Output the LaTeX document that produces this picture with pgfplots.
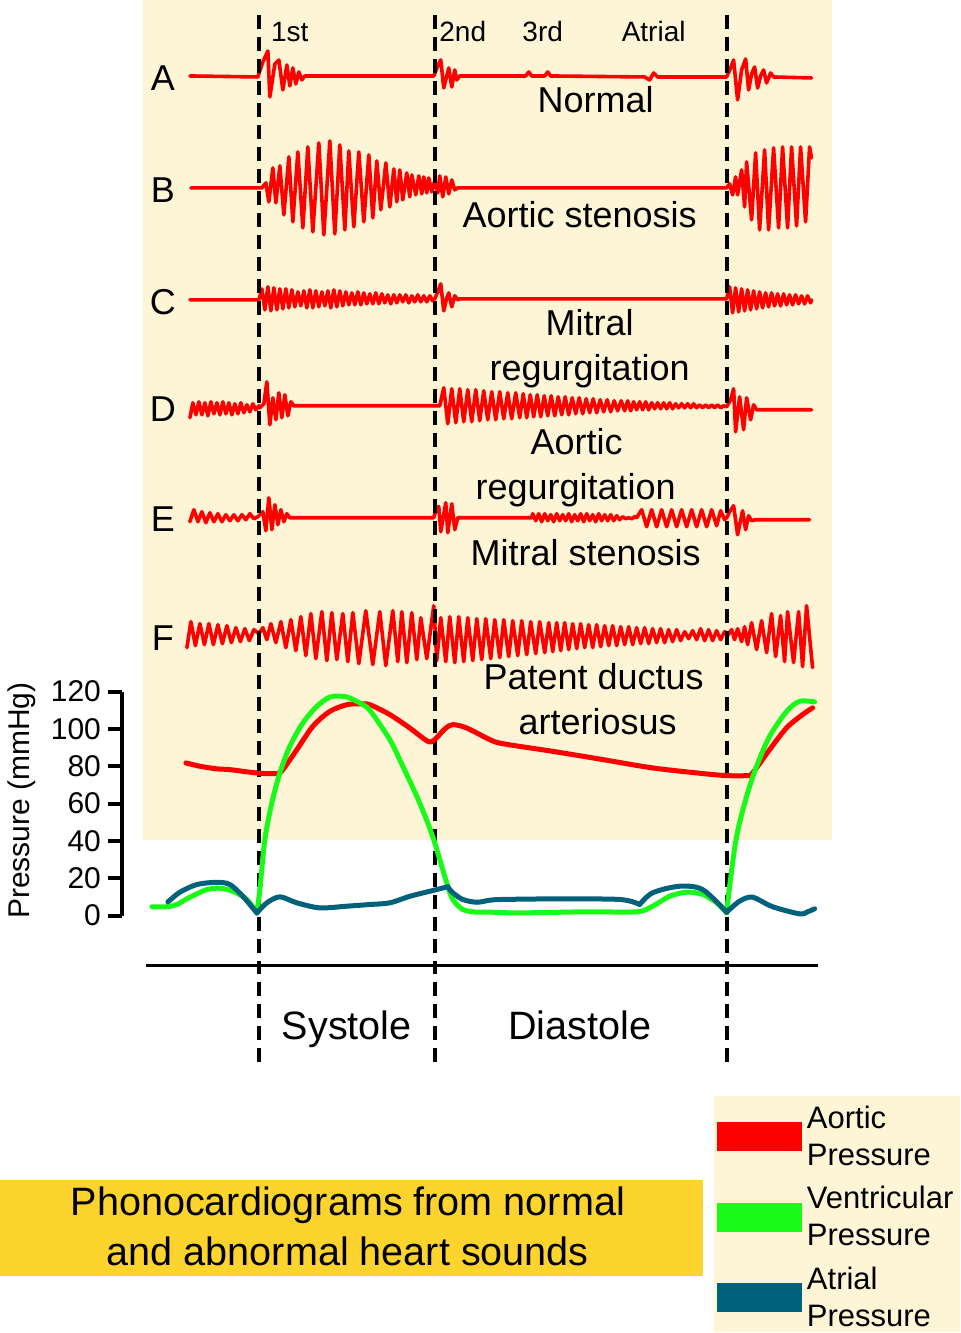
\documentclass[border=0pt]{standalone}
\usepackage{fontspec}
\setmainfont{Liberation Sans}
\usepackage{pgfplots}
\pgfplotsset{compat=1.18}
\definecolor{cream}{RGB}{253,245,214}
\definecolor{gold}{RGB}{253,211,46}
\definecolor{atrial}{RGB}{0,98,122}
\definecolor{vent}{RGB}{25,250,25}
\definecolor{aort}{RGB}{255,0,0}
\pgfplotsset{
  sound/.style={aort, line width=1.8pt, line join=round, line cap=round},
  cycleline/.style={black, line width=2pt, dash pattern=on 7pt off 4pt},
  press/.style={line width=2.5pt, smooth, line cap=round},
}
\newcommand{\fLab}{\fontsize{18}{21}\selectfont}
\newcommand{\fSml}{\fontsize{14}{17}\selectfont}
\newcommand{\fBig}{\fontsize{19.8}{24}\selectfont}
\begin{document}
\begin{tikzpicture}
% pixel frame: x 0..960, y 0..1333 downwards
\begin{axis}[at={(0,0)}, anchor=south west, scale only axis,
    width=480pt, height=666.5pt,
    xmin=0, xmax=960, ymin=0, ymax=1333, y dir=reverse,
    axis lines=none, clip=false]
\addplot[draw=none, fill=white] coordinates {(0,0)(960,0)(960,1333)(0,1333)} -- cycle;
\addplot[draw=none, fill=cream] coordinates {(143,0)(832,0)(832,840)(143,840)} -- cycle;
\addplot[draw=none, fill=cream] coordinates {(714,1097)(960,1097)(960,1333)(714,1333)} -- cycle;
\addplot[draw=none, fill=gold] coordinates {(0,1181)(703,1181)(703,1277)(0,1277)} -- cycle;

% A normal
\addplot[sound] coordinates {(190,76)(258,77)(263,62)(268,51)(270,97)(275,64)(279,60)(283,90)(287,65)(290,86)(293,68)(296,84)(299,72)(302,80)(305,76)(308,76)(434,76)(438,66)(441,60)(444,88)(449,68)(452,87)(455,70)(457,80)(460,76)(526,76)(529,72)(532,76)(545,76)(548,72)(551,76)(645,77)(650,80)(654,73)(658,77)(727,77)(731,68)(734,60)(738,100)(742,70)(746,59)(749,90)(752,74)(755,67)(758,88)(761,76)(764,70)(767,83)(771,73)(774,77)(812,78)};

% B aortic stenosis
\addplot[sound] coordinates {(191,188)(262,188)(266,183)(269,202)(273,168)(276,203)(280,166)(284,215)(289,157)(293,222)(298,152)(303,228)(308,147)(313,232)(319,143)(324,235)(330,141)(335,234)(340,145)(345,230)(349,151)(354,227)(359,152)(364,222)(369,155)(373,218)(377,161)(381,210)(386,163)(390,207)(394,169)(397,202)(400,170)(403,200)(407,173)(410,197)(412,175)(416,195)(419,176)(422,194)(424,177)(427,193)(429,178)(432,192)(435,181)(438,193)(440,176)(443,197)(446,177)(449,194)(452,180)(455,190)(458,188)(727,188)(730,184)(733,195)(736,177)(738,195)(742,170)(745,207)(747,162)(752,220)(756,153)(760,230)(765,150)(769,230)(774,148)(779,228)(783,147)(788,228)(792,147)(797,226)(801,147)(806,222)(810,147)(812,158)};

% C mitral regurgitation
\addplot[sound] coordinates {(190,300)(259,300)(262,289)(265,310)(268,287)(271,311)(274,288)(277,310)(280,289)(283,309)(286,289)(289,308)(292,290)(295,307)(298,292)(301,306)(304,291)(307,308)(310,290)(313,308)(316,291)(319,307)(322,292)(325,306)(328,291)(331,308)(334,290)(337,307)(340,291)(343,306)(346,292)(349,305)(352,293)(355,305)(358,292)(361,305)(364,293)(367,304)(370,294)(373,304)(376,293)(379,304)(382,294)(385,303)(388,295)(391,304)(394,295)(397,303)(400,295)(403,302)(406,295)(409,303)(412,296)(415,302)(418,295)(421,302)(424,296)(427,302)(430,296)(433,301)(435,299)(438,292)(441,284)(444,311)(447,298)(449,293)(452,307)(455,296)(458,300)(460,299)(727,299)(730,287)(733,313)(736,288)(739,312)(742,289)(745,311)(748,290)(751,310)(754,291)(757,309)(760,292)(763,308)(766,293)(769,307)(772,293)(775,306)(778,294)(781,306)(784,294)(787,305)(790,295)(793,305)(796,295)(799,304)(802,296)(805,304)(808,296)(811,303)(812,300)};

% D aortic regurgitation
\addplot[sound] coordinates {(190,418)(193,403)(196,415)(199,402)(202,415)(205,403)(208,416)(211,402)(214,414)(217,403)(220,415)(223,402)(226,414)(229,403)(232,415)(235,404)(238,414)(241,403)(244,413)(247,405)(250,412)(253,404)(256,410)(259,406)(260,408)(264,404)(267,382)(270,425)(273,398)(276,420)(279,393)(282,418)(285,395)(288,416)(291,402)(294,406)(436,406)(440,406)(444,388)(448,424)(452,389)(456,423)(460,389)(464,422)(468,390)(472,422)(476,390)(480,421)(484,391)(488,420)(492,392)(496,420)(500,392)(504,419)(508,393)(512,419)(516,393)(520,418)(523.5,394)(527,418)(530.5,395)(534,417)(537.5,395)(541,417)(544.5,396)(548,416)(551.5,396)(555,416)(558.5,397)(562,415)(565.5,397)(569,415)(572.5,398)(576,414)(579.5,398)(583,414)(586.5,399)(590,413)(593.5,399)(597,413)(600.5,400)(604,412)(607.5,400)(611,412)(614.5,401)(618,411)(621.5,401)(625,411)(628,401)(631,411)(634,402)(637,410)(640,402)(643,410)(646,402)(649,410)(652,403)(655,409)(658,403)(661,409)(664,403)(667,409)(670,403)(673,409)(676,404)(679,408)(682,404)(685,408)(688,404)(691,408)(694,404)(697,408)(700,405)(703,408)(706,405)(709,408)(712,405)(715,408)(718,405)(721,408)(724,406)(727,407)(731,400)(734,389)(736,432)(740,397)(744,430)(747,398)(751,420)(754,405)(757,410)(812,410)};

% E mitral stenosis
\addplot[sound] coordinates {(190,522)(194,510)(198,522)(202,512)(206,523)(210,513)(214,522)(218,514)(222,522)(226,515)(230,521)(234,515)(238,521)(242,515)(246,520)(250,514)(254,519)(258,517)(263,512)(266,531)(269,498)(272,530)(275,505)(278,525)(281,510)(284,522)(287,514)(290,518)(434,518)(437,508)(439,507)(441,532)(446,503)(448,533)(452,504)(455,530)(458,518)(532,518)(533,514)(536,521)(539,514)(542,522)(545,514)(548,521)(551,515)(554,522)(557,514)(560,521)(563,515)(566,521)(569,514)(572,522)(575,515)(578,521)(581,514)(584,522)(587,514)(590,521)(593,515)(596,522)(599,514)(602,521)(605,515)(608,521)(611,515)(614,521)(617,516)(620,520)(623,517)(626,519)(629,518)(632,519)(635,517)(637,518)(642,510)(647,527)(652,510)(657,527)(662,510)(667,527)(672,510)(677,527)(682,510)(687,527)(692,510)(697,527)(702,510)(707,527)(712,510)(717,526)(721,511)(725,520)(727,518)(730,512)(734,506)(738,535)(743,511)(746,530)(749,516)(752,521)(756,520)(810,520)};

% F patent ductus arteriosus
\addplot[sound] coordinates {(187,648)(191,622)(195.5,646)(200,624)(204.5,645)(209,624)(213.5,645)(218,625)(222.5,644)(227,626)(231.5,643)(236,628)(240.5,642)(245,629)(249.5,641)(254,630)(259,634)(263,628)(267,640)(271,624)(276,643)(281,622)(286,648)(291,620)(296,651)(301,617)(306,656)(311,614)(316,659)(322,612)(327,661)(332,613)(337,660)(343,614)(348,662)(353,613)(359,664)(366,611)(373,665)(380,612)(386,666)(393,611)(398,662)(402,612)(407,663)(412,613)(417,660)(421,618)(427,659)(434,606)(437,661)(441,618)(446,662)(450,617)(455,663)(459,617)(464,662)(468,618)(473,661)(477,619)(482,660)(486,619)(491,659)(495,620)(500,658)(504,620)(509,657)(513,621)(518,656)(522,621)(527,655)(531,622)(536,654)(540,622)(545,653)(549,623)(553,652)(557,623)(561,651)(565,623)(569,650)(573,624)(577,649)(581,624)(585,648)(589,625)(593,648)(597,625)(601,647)(605,626)(609,646)(613,626)(617,646)(621,627)(625,645)(629,627)(633,645)(637,628)(641,644)(645,628)(649,644)(653,629)(657,643)(661,629)(665,643)(669,630)(673,642)(677,630)(681,641)(685,632)(689,639)(693,631)(697,640)(701,629)(705,641)(709,630)(713,641)(717,631)(721,640)(725,632)(728,636)(732,630)(735,640)(738,629)(742,642)(745,627)(748,645)(752,623)(757,650)(762,621)(767,653)(772,614)(776,657)(781,616)(785,662)(788,612)(794,663)(799,612)(803,667)(807,606)(813,668)};

% cycle markers
\addplot[cycleline] coordinates {(259,15)(259,1065)};
\addplot[cycleline] coordinates {(435,15)(435,1065)};
\addplot[cycleline] coordinates {(727,15)(727,1065)};
\addplot[black, line width=1.5pt] coordinates {(146,966)(818,966)};

% row letters and labels
\node[anchor=base, font=\fLab, inner sep=0pt] at (axis cs:163,91) {A};
\node[anchor=base, font=\fLab, inner sep=0pt] at (axis cs:163,203) {B};
\node[anchor=base, font=\fLab, inner sep=0pt] at (axis cs:163,315) {C};
\node[anchor=base, font=\fLab, inner sep=0pt] at (axis cs:163,422) {D};
\node[anchor=base, font=\fLab, inner sep=0pt] at (axis cs:163,532) {E};
\node[anchor=base, font=\fLab, inner sep=0pt] at (axis cs:163,651) {F};
\node[anchor=base, font=\fSml, inner sep=0pt] at (axis cs:290,42) {1st};
\node[anchor=base, font=\fSml, inner sep=0pt] at (axis cs:463,42) {2nd};
\node[anchor=base, font=\fSml, inner sep=0pt] at (axis cs:543,42) {3rd};
\node[anchor=base, font=\fSml, inner sep=0pt] at (axis cs:654,42) {Atrial};
\node[anchor=base, font=\fLab, inner sep=0pt] at (axis cs:596,113) {Normal};
\node[anchor=base, font=\fLab, inner sep=0pt] at (axis cs:580,228) {Aortic stenosis};
\node[anchor=base, font=\fLab, inner sep=0pt] at (axis cs:590,336) {Mitral};
\node[anchor=base, font=\fLab, inner sep=0pt] at (axis cs:590,381) {regurgitation};
\node[anchor=base, font=\fLab, inner sep=0pt] at (axis cs:577,455) {Aortic};
\node[anchor=base, font=\fLab, inner sep=0pt] at (axis cs:576,500) {regurgitation};
\node[anchor=base, font=\fLab, inner sep=0pt] at (axis cs:586,566) {Mitral stenosis};
\node[anchor=base, font=\fLab, inner sep=0pt] at (axis cs:594,690) {Patent ductus};
\node[anchor=base, font=\fLab, inner sep=0pt] at (axis cs:598,735) {arteriosus};
\node[anchor=base, font=\fBig, inner sep=0pt] at (axis cs:347,1040) {Systole};
\node[anchor=base, font=\fBig, inner sep=0pt] at (axis cs:580,1040) {Diastole};
\node[anchor=base, font=\fBig, inner sep=0pt] at (axis cs:348,1216) {Phonocardiograms from normal};
\node[anchor=base, font=\fBig, inner sep=0pt] at (axis cs:348,1266) {and abnormal heart sounds};
\node[rotate=90, font=\fontsize{15}{18}\selectfont, inner sep=0pt] at (axis cs:22,801) {Pressure (mmHg)};
\end{axis}

% pressure traces, x in the same pixel units, y in mmHg
\begin{axis}[at={(61pt,208.5pt)}, anchor=south west, scale only axis,
    width=419pt, height=112pt,
    xmin=122, xmax=960, ymin=0, ymax=120,
    axis x line=none, axis y line=left,
    axis line style={line width=2pt, -},
    ytick={0,20,...,120},
    major tick length=7pt, tick align=outside,
    tick style={line width=2pt, black},
    /pgf/number format/assume math mode=true,
    yticklabel style={font=\fontsize{15}{18}\selectfont},
    clip=false,
    legend cell align=left,
    legend image code/.code={%
      \draw[#1, line width=12.5pt, line cap=butt, overlay] (0pt,0pt) -- (40pt,0pt);
      \path (0pt,-6pt) rectangle (40pt,6pt);},
    legend style={at={(axis cs:714.6,-99.6)}, anchor=north west, draw=none, fill=none,
      font=\fontsize{15.5}{18.5}\selectfont, cells={align=left}, row sep=5pt,
      nodes={inner xsep=2.7pt},
      inner xsep=1pt, inner ysep=0pt},
]
\addplot[press, aort] coordinates {(186,81.8)(200,80.0)(217,78.6)(230,78.2)(257,76.4)(277,76.1)(283,78.2)(297,88.9)(313,101.4)(330,109.4)(347,113)(360,113.4)(370,113)(390,107.7)(410,100.5)(428,93.4)(435,94.3)(445,100)(453,102.3)(467,100.5)(490,94.3)(503,92.1)(553,88)(603,83.6)(653,79.1)(703,76.1)(727,75)(747,75)(753,76.4)(770,88.9)(787,100.6)(803,107.7)(813,111.3)};
\addlegendentry{Aortic\\Pressure}
\addplot[press, vent] coordinates {(152,4.7)(167,4.7)(177,5.9)(190,9.8)(207,13.9)(220,14.6)(233,13.0)(247,8.6)(257,1.4)};
\addlegendentry{Ventricular\\Pressure}
\addplot[press, vent, forget plot] coordinates {(257,1.4)(260,13.9)(265,40.7)(272,60.4)(280,76.4)(290,90.7)(303,103.2)(317,112.1)(330,117.1)(343,117.5)(350,116.6)(360,113.9)(370,110)(390,94.3)(403,80)(417,63.9)(428,49.6)(435,38.9)(442,26.4)(448,15.7)(453,8.6)(463,3.2)(477,1.8)(490,1.8)(520,1.4)(587,2.0)(637,2.0)(653,5.0)(670,10.3)(687,12.5)(703,11.3)(717,6.8)(727,1.4)};
\addplot[press, vent, forget plot] coordinates {(727,1.4)(730,15.7)(737,42.5)(747,63.9)(757,80)(770,96)(787,109.4)(800,114.8)(815,114.5)};
\addplot[press, atrial] coordinates {(168,7.3)(180,12.5)(197,16.6)(217,17.8)(230,16.6)(243,10.3)(257,1.4)};
\addlegendentry{Atrial\\Pressure}
\addplot[press, atrial, forget plot] coordinates {(257,1.4)(267,6.8)(280,10)(297,6.8)(320,4.1)(347,5)(370,5.9)(390,6.8)(410,10.3)(430,13)(448,15.4)};
\addplot[press, atrial, forget plot] coordinates {(448,15.4)(453,12.2)(463,8.6)(477,7.1)(490,8.2)(503,8.6)(553,8.9)(620,8.6)(640,5.9)};
\addplot[press, atrial, forget plot] coordinates {(640,5.9)(653,12.2)(680,15.7)(703,13.9)(727,1.8)};
\addplot[press, atrial, forget plot] coordinates {(727,1.8)(740,7.7)(753,9.8)(773,4.7)(800,0.9)(808,2.0)(815,3.6)};
\end{axis}
\end{tikzpicture}
\end{document}
